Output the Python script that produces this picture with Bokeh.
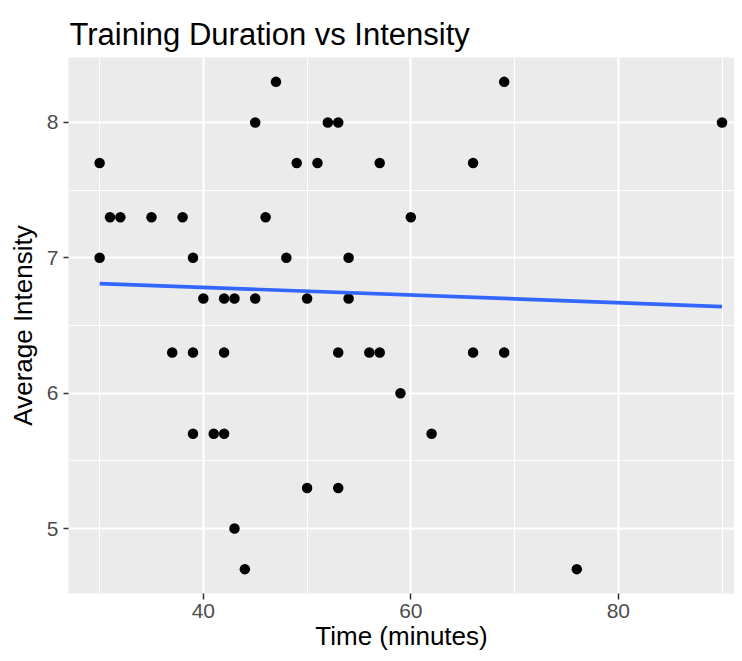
from bokeh.plotting import figure
from bokeh.models import FixedTicker, Range1d, ColumnDataSource
from bokeh.embed import file_html
from bokeh.resources import INLINE

# ---- data ----
time_min = [30, 30, 31, 32, 35, 38, 39, 40, 42, 43, 45, 45, 46, 47, 48, 49, 50, 51,
            52, 53, 54, 54, 57, 60, 37, 39, 42, 53, 56, 57, 59, 39, 41, 42, 50, 53,
            43, 44, 66, 69, 90, 66, 69, 62, 76]
intensity = [7.7, 7.0, 7.3, 7.3, 7.3, 7.3, 7.0, 6.7, 6.7, 6.7, 6.7, 8.0, 7.3, 8.3, 7.0, 7.7, 6.7, 7.7,
             8.0, 8.0, 7.0, 6.7, 7.7, 7.3, 6.3, 6.3, 6.3, 6.3, 6.3, 6.3, 6.0, 5.7, 5.7, 5.7, 5.3, 5.3,
             5.0, 4.7, 7.7, 8.3, 8.0, 6.3, 6.3, 5.7, 4.7]
# fitted trend line (end points)
fit_x = [30, 90]
fit_y = [6.81, 6.64]

x_ticks = [40, 60, 80]
x_minor = [30, 50, 70, 90]
y_ticks = [5, 6, 7, 8]
y_minor = [4.5, 5.5, 6.5, 7.5, 8.5]

title_text = "Training Duration vs Intensity"
x_label = "Time (minutes)"
y_label = "Average Intensity"

FONT = "Liberation Sans"

p = figure(width=734, height=653, output_backend="svg", toolbar_location=None,
           x_range=Range1d(27, 91.2), y_range=Range1d(4.52, 8.48),
           min_border_left=68, min_border_right=0, min_border_top=57, min_border_bottom=60)

p.background_fill_color = "#EBEBEB"
p.border_fill_color = "white"
p.outline_line_color = None

# title
p.title.text = title_text
p.title.text_font = FONT
p.title.text_font_size = "31px"
p.title.text_font_style = "normal"
p.title.text_color = "black"
p.title.align = "left"
p.title.offset = 1
p.title.standoff = 11

# axes
for ax in (p.xaxis[0], p.yaxis[0]):
    ax.axis_line_color = None
    ax.major_tick_line_color = "#333333"
    ax.major_tick_line_width = 1.5
    ax.major_tick_out = 6
    ax.major_tick_in = 0
    ax.minor_tick_out = 0
    ax.minor_tick_in = 0
    ax.major_label_text_font = FONT
    ax.major_label_text_font_size = "21px"
    ax.major_label_text_color = "#4D4D4D"
    ax.axis_label_text_font = FONT
    ax.axis_label_text_font_size = "26px"
    ax.axis_label_text_font_style = "normal"
    ax.axis_label_text_color = "black"

p.xaxis[0].ticker = FixedTicker(ticks=x_ticks, minor_ticks=x_minor)
p.yaxis[0].ticker = FixedTicker(ticks=y_ticks, minor_ticks=y_minor)
p.xaxis[0].axis_label = x_label
p.yaxis[0].axis_label = y_label
p.xaxis[0].major_label_standoff = 4
p.xaxis[0].axis_label_standoff = 0
p.yaxis[0].major_label_standoff = 5
p.yaxis[0].axis_label_standoff = 6
p.yaxis[0].major_tick_out = 5

# grid
for g in (p.xgrid[0], p.ygrid[0]):
    g.grid_line_color = "white"
    g.grid_line_width = 2.2
    g.minor_grid_line_color = "white"
    g.minor_grid_line_width = 1.1

src = ColumnDataSource(dict(x=time_min, y=intensity))
p.scatter("x", "y", source=src, size=10.5, color="black", line_color=None)
p.line(fit_x, fit_y, line_color="#3366FF", line_width=3.7)

open("out.html", "w").write(file_html(p, INLINE))
